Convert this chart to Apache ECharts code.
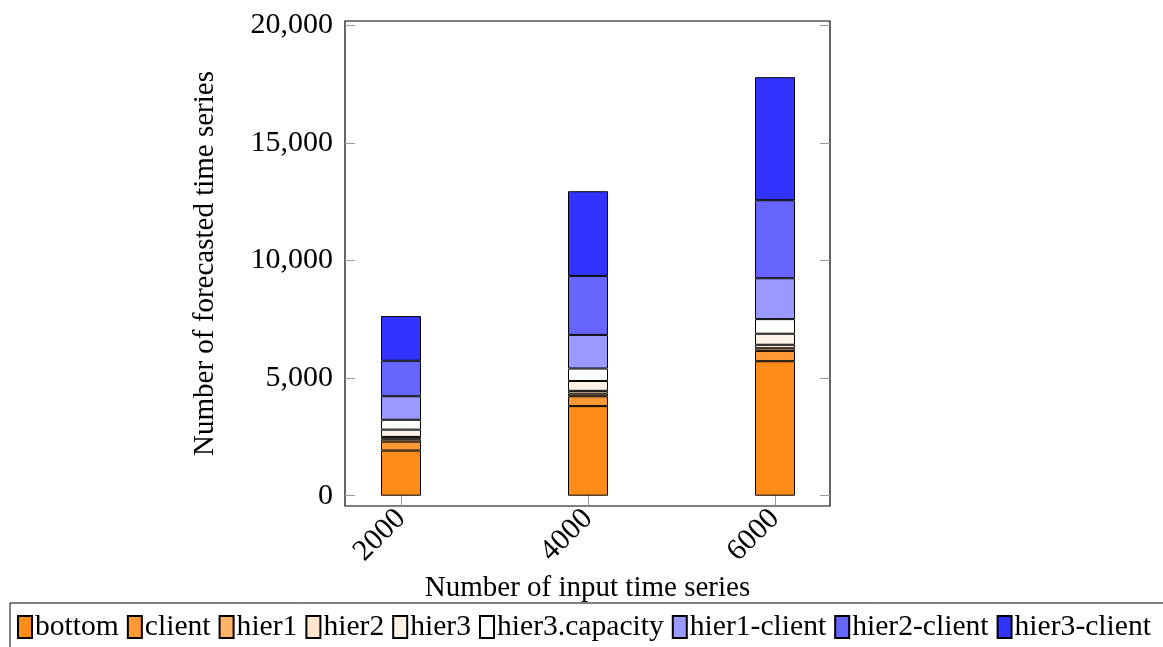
<!DOCTYPE html>
<html>
<head>
<meta charset="utf-8">
<script src="https://cdn.jsdelivr.net/npm/echarts@6/dist/echarts.min.js"></script>
<style>
  html, body { margin: 0; padding: 0; background: #fff; }
  #chart { width: 1163px; height: 647px; }
</style>
</head>
<body>
<div id="chart"></div>
<script>
// input sizes on x, one stacked bar per size
const inputSizes = ['2000', '4000', '6000']
const xTicks = [2000, 4000, 6000]
const yTicks = [0, 5000, 10000, 15000, 20000]

const seriesNames = ['bottom', 'client', 'hier1', 'hier2', 'hier3', 'hier3.capacity', 'hier1-client', 'hier2-client', 'hier3-client']
const bottom = [1920, 3810, 5720]
const client = [380, 420, 440]
const hier1 = [100, 110, 110]
const hier2 = [100, 120, 150]
const hier3 = [310, 420, 470]
const hier3Capacity = [420, 530, 620]
const hier1Client = [1000, 1430, 1740]
const hier2Client = [1510, 2510, 3320]
const hier3Client = [1900, 3600, 5230]

const seriesValues = [bottom, client, hier1, hier2, hier3, hier3Capacity, hier1Client, hier2Client, hier3Client]
const seriesColors = ['#FF8C19', '#FF9933', '#FFB366', '#FFE6CC', '#FFF2E6', '#FFFFFF', '#9999FF', '#6666FF', '#3333FF']

const font = 'Liberation Serif, Times New Roman, serif'
const tickStyle = { show: true, inside: true, length: 10, lineStyle: { color: '#999', width: 1 } }
const yMin = -438, yMax = 20191
const xMin = 1400, xMax = 6590

const chart = echarts.init(document.getElementById('chart'), null, { renderer: 'canvas' })

const option = {
  animation: false,
  grid: [
    // frame + axes
    { left: 345, right: 333, top: 21, bottom: 141, show: true, borderColor: '#000', borderWidth: 1.2, backgroundColor: 'transparent' },
    // bars: category bands 187px wide, centred on 401 / 588 / 775
    { left: 307.5, right: 294.5, top: 21, bottom: 141 }
  ],
  legend: {
    left: 10, top: 603, width: 1400,
    padding: [9, 40, 20, 7],
    borderColor: '#000', borderWidth: 1,
    itemWidth: 14, itemHeight: 22, itemGap: 8,
    selectedMode: false,
    icon: 'rect',
    textStyle: { fontFamily: font, fontSize: 29.6, color: '#000', padding: [0, 0, 0, -2] },
    data: seriesNames
  },
  xAxis: [
    {
      gridIndex: 0, type: 'value', min: xMin, max: xMax, position: 'bottom',
      name: 'Number of input time series', nameLocation: 'middle', nameGap: 62,
      nameTextStyle: { fontFamily: font, fontSize: 29, color: '#000' },
      axisLine: { show: false },
      axisTick: Object.assign({ customValues: xTicks }, tickStyle),
      axisLabel: {
        customValues: xTicks, rotate: 45, margin: 8, fontFamily: font, fontSize: 30, color: '#000',
        formatter: v => String(v)
      },
      splitLine: { show: false }
    },
    {
      gridIndex: 0, type: 'value', min: xMin, max: xMax, position: 'top',
      axisLine: { show: false },
      axisTick: Object.assign({ customValues: xTicks }, tickStyle),
      axisLabel: { show: false },
      splitLine: { show: false }
    },
    {
      gridIndex: 1, type: 'category', data: inputSizes,
      axisLine: { show: false }, axisTick: { show: false }, axisLabel: { show: false }
    }
  ],
  yAxis: [
    {
      gridIndex: 0, type: 'value', min: yMin, max: yMax, position: 'left',
      name: 'Number of forecasted time series', nameLocation: 'middle', nameGap: 125, nameRotate: 90,
      nameTextStyle: { fontFamily: font, fontSize: 29, color: '#000' },
      axisLine: { show: false },
      axisTick: Object.assign({ customValues: yTicks }, tickStyle),
      axisLabel: {
        customValues: yTicks, margin: 12, fontFamily: font, fontSize: 30, color: '#000',
        formatter: v => v.toLocaleString('en-US')
      },
      splitLine: { show: false }
    },
    {
      gridIndex: 0, type: 'value', min: yMin, max: yMax, position: 'right',
      axisLine: { show: false },
      axisTick: Object.assign({ customValues: yTicks }, tickStyle),
      axisLabel: { show: false },
      splitLine: { show: false }
    },
    {
      gridIndex: 1, type: 'value', min: yMin, max: yMax,
      axisLine: { show: false }, axisTick: { show: false }, axisLabel: { show: false }, splitLine: { show: false }
    }
  ],
  series: seriesNames.map((name, i) => ({
    name: name,
    type: 'bar',
    stack: 'total',
    xAxisIndex: 2,
    yAxisIndex: 2,
    barWidth: 40,
    itemStyle: { color: seriesColors[i], borderColor: '#000', borderWidth: 1 },
    data: seriesValues[i]
  }))
}

chart.setOption(option)
</script>
</body>
</html>
